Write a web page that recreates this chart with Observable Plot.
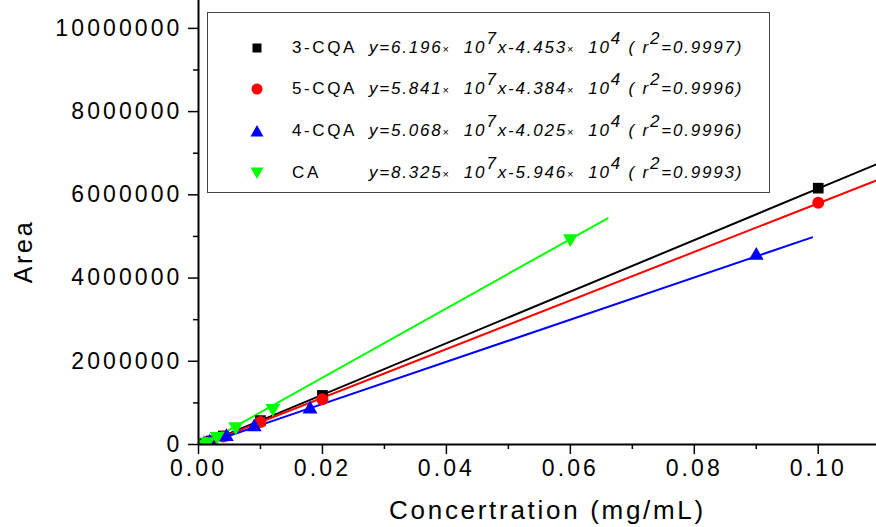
<!DOCTYPE html>
<html>
<head>
<meta charset="utf-8">
<script src="https://cdn.jsdelivr.net/npm/d3@7"></script>
<script src="https://cdn.jsdelivr.net/npm/@observablehq/plot@0.6"></script>
<style>
  html, body { margin: 0; padding: 0; background: #fff; }
  #wrap { position: relative; width: 876px; height: 527px; font-family: "Liberation Sans", Arial, sans-serif; }
  #wrap svg { font-family: "Liberation Sans", Arial, sans-serif; }
  g[aria-label="y-axis tick label"] text, g[aria-label="x-axis tick label"] text { font-size: 23px; letter-spacing: 3.1px; fill: #000; }
  g.axtitle text { letter-spacing: 2.7px; fill: #000; }
  #legend { position: absolute; left: 207px; top: 12px; width: 563px; height: 181px; box-sizing: border-box; border: 1px solid #444; background: #fff; }
  .row { position: absolute; left: 0; height: 22px; line-height: 22px; white-space: pre; font-size: 17px; color: #000; }
  .row svg { position: absolute; left: 42px; top: 4px; }
  .name { position: absolute; left: 84px; letter-spacing: 2.6px; }
  .eq { position: absolute; left: 161px; font-style: italic; letter-spacing: 1.8px; }
  .eq sup { font-size: 17px; position: relative; vertical-align: 9px; line-height: 0; }
  .eq .x { font-size: 11px; font-style: normal; }
</style>
</head>
<body>
<div id="wrap"></div>
<script>
// ---- data ----
const seriesNames = ["3-CQA", "5-CQA", "4-CQA", "CA"];
const seriesColors = ["#000000", "#ff0000", "#0000ff", "#00ff00"];

const cqa3X = [0.001, 0.002, 0.004, 0.01, 0.02, 0.1];
const cqa3Y = [20000, 85000, 205000, 575000, 1180000, 6160000];
const cqa5X = [0.001, 0.002, 0.004, 0.01, 0.02, 0.1];
const cqa5Y = [15000, 75000, 190000, 540000, 1090000, 5810000];
const cqa4X = [0.0009, 0.0018, 0.0045, 0.009, 0.018, 0.09];
const cqa4Y = [10000, 55000, 185000, 420000, 850000, 4540000];
const caX = [0.0006, 0.0015, 0.003, 0.006, 0.012, 0.06];
const caY = [10000, 70000, 200000, 430000, 870000, 4950000];

// fitted lines (coefficients as printed in the legend)
const fitSlope = [6.196e7, 5.841e7, 5.068e7, 8.325e7];
const fitIntercept = [-4.453e4, -4.384e4, -4.025e4, -5.946e4];
const fitStart = [0.001, 0.001, 0.0009, 0.0006];
const fitEnd = [0.11, 0.11, 0.099, 0.066];

const eqSlope = ["6.196", "5.841", "5.068", "8.325"];
const eqIntercept = ["4.453", "4.384", "4.025", "5.946"];
const eqR2 = ["0.9997", "0.9996", "0.9996", "0.9993"];

const yMajorTicks = [0, 2000000, 4000000, 6000000, 8000000, 10000000];
const yMinorTicks = [1000000, 3000000, 5000000, 7000000, 9000000];
const xMajorTicks = [0, 0.02, 0.04, 0.06, 0.08, 0.10];
const xMinorTicks = [0.01, 0.03, 0.05, 0.07, 0.09];

const xTitle = "Concertration (mg/mL)";
const yTitle = "Area";

// ---- build tables ----
const xs = [cqa3X, cqa5X, cqa4X, caX];
const ys = [cqa3Y, cqa5Y, cqa4Y, caY];
const points = [];
seriesNames.forEach((s, i) => xs[i].forEach((x, j) => points.push({s, x, y: ys[i][j]})));
const fits = [];
seriesNames.forEach((s, i) => {
  [fitStart[i], fitEnd[i]].forEach(x => fits.push({s, x, y: fitSlope[i] * x + fitIntercept[i]}));
});

const triangleDown = {
  draw(context, size) {
    const s = Math.sqrt(size / (Math.sqrt(3) / 4));
    const h = s * Math.sqrt(3) / 2;
    context.moveTo(0, h * 2 / 3);
    context.lineTo(s / 2, -h / 3);
    context.lineTo(-s / 2, -h / 3);
    context.closePath();
  }
};
const symbols = [d3.symbolSquare, d3.symbolCircle, d3.symbolTriangle, triangleDown];
const symbolRadius = [6, 6, 5.5, 5.5];

const marks = [];
seriesNames.forEach((s, i) => {
  marks.push(Plot.line(fits.filter(d => d.s === s), {x: "x", y: "y", stroke: seriesColors[i], strokeWidth: 2, clip: true}));
});
seriesNames.forEach((s, i) => {
  marks.push(Plot.dot(points.filter(d => d.s === s), {x: "x", y: "y", fill: seriesColors[i], stroke: "none", symbol: () => symbols[i], r: symbolRadius[i], clip: true}));
});

const chart = Plot.plot({
  width: 876,
  height: 527,
  marginLeft: 198,
  marginRight: 0,
  marginTop: 0,
  marginBottom: 83,
  x: {domain: [0, 0.1094]},
  y: {domain: [0, 10670000]},
  symbol: {type: "identity"},
  marks: [
    ...marks,
    Plot.ruleX([0], {stroke: "#000", strokeWidth: 2}),
    Plot.ruleY([0], {stroke: "#000", strokeWidth: 2}),
    Plot.axisY(yMajorTicks, {tickSize: 10, tickPadding: 6, strokeWidth: 1.5, tickFormat: d => String(d), label: null}),
    Plot.axisY(yMinorTicks, {tickSize: 5, strokeWidth: 1.5, text: null, label: null}),
    Plot.axisX(xMajorTicks, {tickSize: 10, tickPadding: 5, strokeWidth: 1.5, tickFormat: d => d.toFixed(2), label: null}),
    Plot.axisX(xMinorTicks, {tickSize: 5, strokeWidth: 1.5, text: null, label: null}),
    Plot.text([yTitle], {frameAnchor: "left", text: d => d, rotate: -90, textAnchor: "middle", lineAnchor: "middle", dx: -175, dy: 29, fontSize: 25, className: "axtitle"}),
    Plot.text([xTitle], {frameAnchor: "bottom", text: d => d, textAnchor: "middle", lineAnchor: "middle", dx: 10, dy: 66, fontSize: 26, className: "axtitle"})
  ]
});

const wrap = document.getElementById("wrap");
wrap.appendChild(chart);

// ---- legend ----
const legend = document.createElement("div");
legend.id = "legend";
const rowCenters = [35, 76, 118, 160];
const markerSvg = [
  c => `<rect x="2.5" y="2.5" width="9" height="9" fill="${c}"/>`,
  c => `<circle cx="7" cy="7" r="5.5" fill="${c}"/>`,
  c => `<path d="M7,1 L13.5,12.5 L0.5,12.5 Z" fill="${c}"/>`,
  c => `<path d="M7,13 L13.5,1.5 L0.5,1.5 Z" fill="${c}"/>`
];
seriesNames.forEach((s, i) => {
  const row = document.createElement("div");
  row.className = "row";
  row.style.top = (rowCenters[i] - 11) + "px";
  row.style.width = "100%";
  row.innerHTML =
    `<svg width="14" height="14">${markerSvg[i](seriesColors[i])}</svg>` +
    `<span class="name">${s}</span>` +
    `<span class="eq">y=${eqSlope[i]}<span class="x">×</span>  10<sup>7</sup>x-${eqIntercept[i]}<span class="x">×</span>  10<sup>4</sup> ( r<sup>2</sup>=${eqR2[i]})</span>`;
  legend.appendChild(row);
});
wrap.appendChild(legend);
</script>
</body>
</html>
